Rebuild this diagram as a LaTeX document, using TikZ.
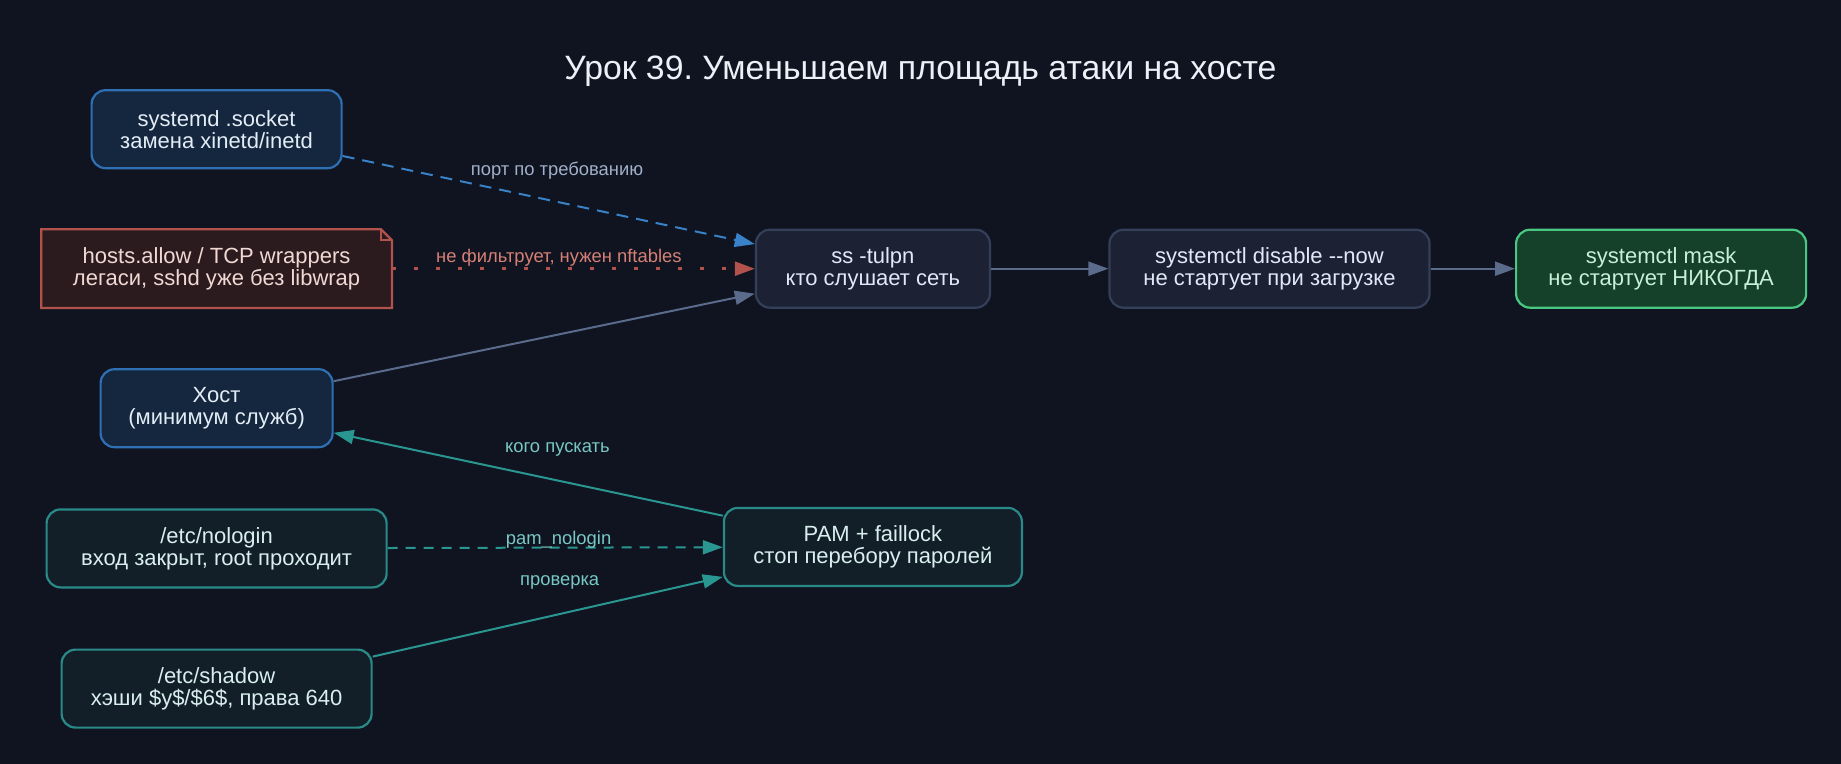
\documentclass[tikz,border=0pt]{standalone}
\usepackage{fontspec}
\setmainfont{Liberation Sans}
\frenchspacing
\definecolor{BgNavy}{RGB}{15,20,32}
\definecolor{TitleText}{RGB}{236,240,247}
\definecolor{HostBlue}{RGB}{47,111,180}
\definecolor{HostFill}{RGB}{20,39,62}
\definecolor{HostText}{RGB}{228,236,246}
\definecolor{LegacyRed}{RGB}{178,82,76}
\definecolor{LegacyFill}{RGB}{44,27,30}
\definecolor{LegacyText}{RGB}{240,216,212}
\definecolor{LegacyLabel}{RGB}{214,128,118}
\definecolor{AuthTeal}{RGB}{42,138,136}
\definecolor{AuthFill}{RGB}{18,31,40}
\definecolor{AuthText}{RGB}{218,238,240}
\definecolor{AuthEdge}{RGB}{42,150,145}
\definecolor{AuthLabel}{RGB}{120,200,195}
\definecolor{CmdSlate}{RGB}{52,63,90}
\definecolor{CmdFill}{RGB}{28,34,52}
\definecolor{CmdText}{RGB}{226,232,245}
\definecolor{CmdEdge}{RGB}{90,107,140}
\definecolor{PortBlue}{RGB}{58,130,200}
\definecolor{PortLabel}{RGB}{160,176,200}
\definecolor{SafeGreen}{RGB}{74,200,130}
\definecolor{SafeFill}{RGB}{21,64,41}
\definecolor{SafeText}{RGB}{200,240,215}
\usetikzlibrary{positioning,arrows.meta,backgrounds}

\begin{document}
\begin{tikzpicture}[
      every node/.style={font=\fontsize{11}{11}\selectfont, align=center},
      svc/.style={draw=HostBlue, fill=HostFill, text=HostText, rounded corners=7pt,
                  line width=1.1pt, minimum height=39pt, inner sep=3pt},
      legacy/.style={text=LegacyText, minimum height=39pt, inner sep=3pt},
      auth/.style={draw=AuthTeal, fill=AuthFill, text=AuthText, rounded corners=7pt,
                   line width=1.1pt, minimum height=39pt, inner sep=3pt},
      cmd/.style={draw=CmdSlate, fill=CmdFill, text=CmdText, rounded corners=7pt,
                  line width=1.1pt, minimum height=39pt, inner sep=3pt},
      safe/.style={draw=SafeGreen, fill=SafeFill, text=SafeText, rounded corners=7pt,
                   line width=1.1pt, minimum height=39pt, inner sep=3pt},
      arr/.style={-{Triangle[length=10pt,width=7pt]}, line width=1pt},
      lbl/.style={font=\fontsize{9.2}{10}\selectfont, inner sep=0pt}
  ]
    \useasboundingbox (0,0) rectangle (920.5pt,-382pt);
    \node[anchor=base, text=TitleText, font=\fontsize{16.9}{17}\selectfont] (title) at (460.2pt,-40pt)
      {Урок 39. Уменьшаем площадь атаки на хосте};
    \node[svc, minimum width=125pt] (socket) at (108.3pt,-64.6pt) {systemd .socket\\замена xinetd/inetd};
    \node[legacy, below=30pt of socket, minimum width=175pt] (hosts) {hosts.allow / TCP wrappers\\легаси, sshd уже без libwrap};
    \node[svc, below=30pt of hosts, minimum width=116pt] (host) {Хост\\(минимум служб)};
    \node[auth, below=30pt of host, minimum width=170pt] (nologin) {/etc/nologin\\вход закрыт, root проходит};
    \node[auth, below=30pt of nologin, minimum width=155pt] (shadow) {/etc/shadow\\хэши \$y\$/\$6\$, права 640};
    \node[cmd, right=181.4pt of hosts, minimum width=117pt] (ss) {ss -tulpn\\кто слушает сеть};
    \node[cmd, right=58.7pt of ss, minimum width=160pt] (disable) {systemctl disable -\kern0pt-now\\не стартует при загрузке};
    \node[safe, right=42.2pt of disable, minimum width=145pt] (mask) {systemctl mask\\не стартует НИКОГДА};
    \node[auth, below=99pt of ss, minimum width=149pt] (pam) {PAM + faillock\\стоп перебору паролей};
    % background and note with folded corner
    \begin{scope}[on background layer]
      \fill[BgNavy] (0,0) rectangle (920.5pt,-382pt);
      \filldraw[draw=LegacyRed, fill=LegacyFill, line width=1.1pt]
        (hosts.south west) -- (hosts.north west) -- ([xshift=-5.5pt]hosts.north east)
        -- ([yshift=-5.5pt]hosts.north east) -- (hosts.south east) -- cycle;
    \end{scope}
    \draw[LegacyRed, line width=1.1pt] ([xshift=-5.5pt]hosts.north east)
      -- ([xshift=-5.5pt,yshift=-5.5pt]hosts.north east) -- ([yshift=-5.5pt]hosts.north east);
    \draw[arr, PortBlue, dash pattern=on 6pt off 4pt] ([yshift=-13.4pt]socket.east) -- ([yshift=12.3pt]ss.west)
      node[lbl, pos=.52, yshift=15.5pt, text=PortLabel] {порт по требованию};
    \draw[arr, LegacyRed, line width=1.2pt, dash pattern=on 2pt off 9pt] (hosts) -- (ss)
      node[lbl, pos=.46, yshift=5.3pt, text=LegacyLabel] {не фильтрует, нужен nftables};
    \draw[arr, CmdEdge] ([yshift=13.5pt]host.east) -- ([yshift=-12.5pt]ss.west);
    \draw[arr, CmdEdge] (ss) -- (disable);
    \draw[arr, CmdEdge] (disable) -- (mask);
    \draw[arr, AuthEdge] ([yshift=15.6pt]pam.west) -- ([yshift=-12.3pt]host.east)
      node[lbl, pos=.425, yshift=15.4pt, text=AuthLabel] {кого пускать};
    \draw[arr, AuthEdge, dash pattern=on 5pt off 4pt] (nologin) -- (pam)
      node[lbl, pos=.51, yshift=3.8pt, text=AuthLabel] {pam\_nologin};
    \draw[arr, AuthEdge] ([yshift=16pt]shadow.east) -- ([yshift=-15pt]pam.west)
      node[lbl, pos=.534, yshift=15.7pt, text=AuthLabel] {проверка};
  \end{tikzpicture}
\end{document}
